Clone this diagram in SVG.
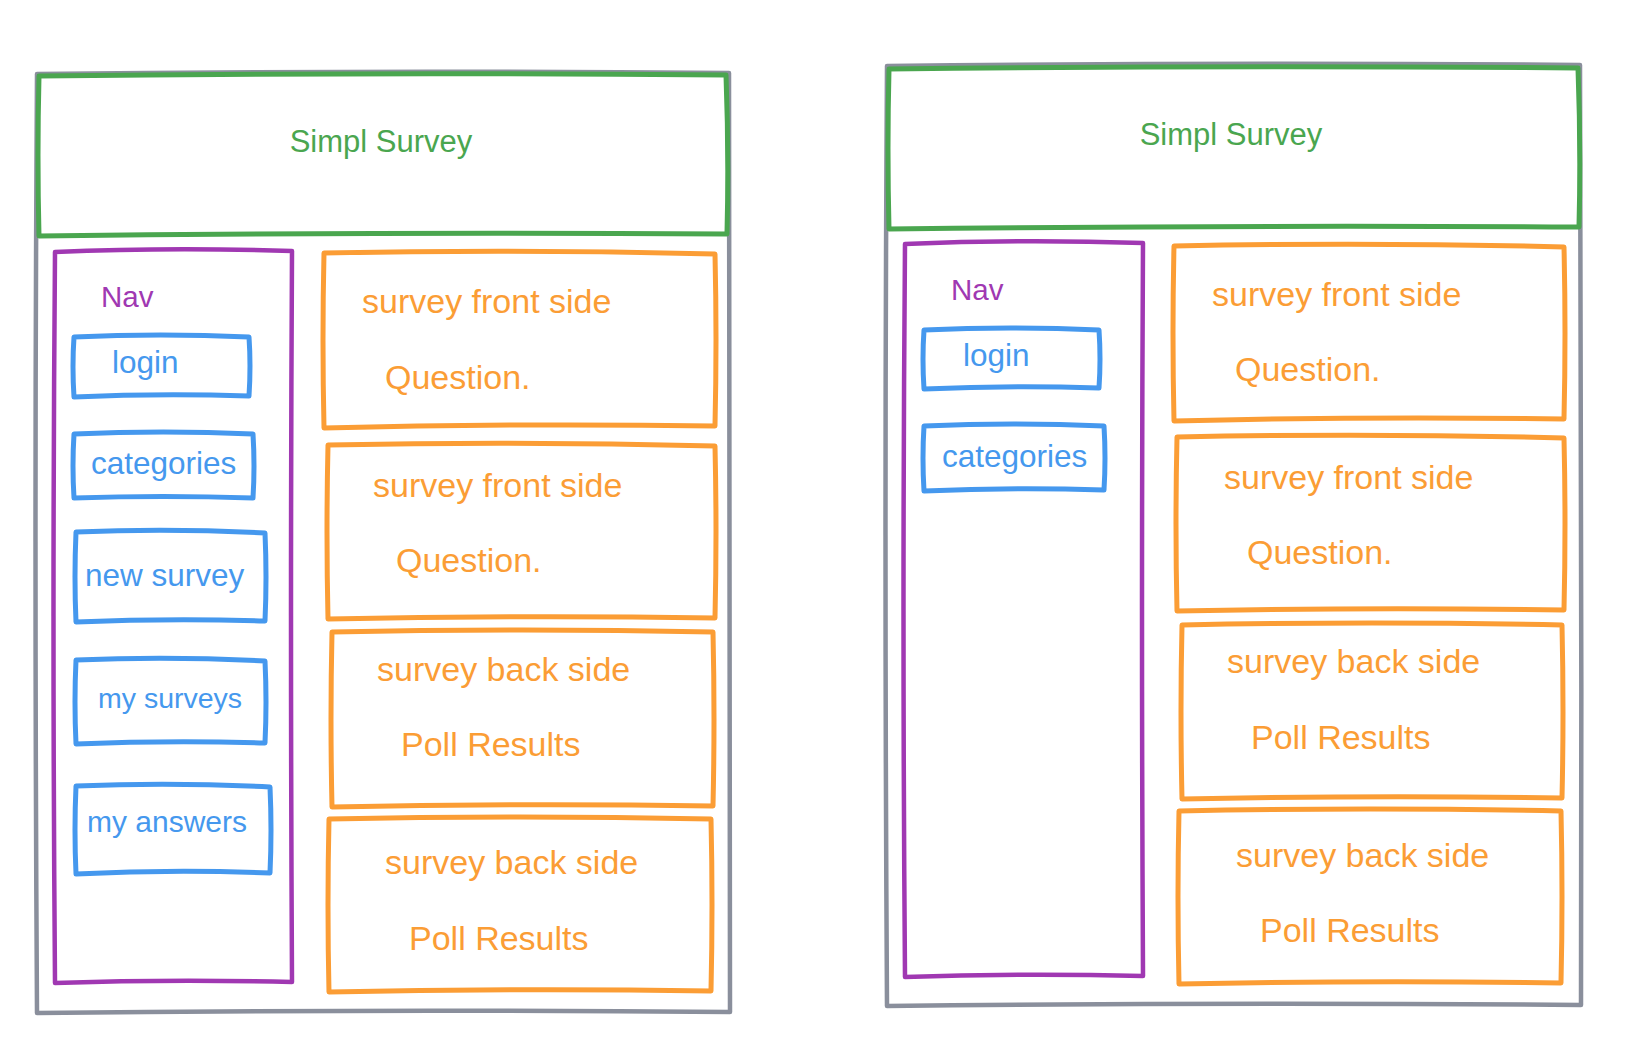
<svg xmlns="http://www.w3.org/2000/svg" width="1632" height="1062" viewBox="0 0 1632 1062">
  <style>
    .frame { fill: none; stroke: #8a8f9c; stroke-width: 4.5; stroke-linejoin: round; stroke-linecap: round; }
    .head  { fill: none; stroke: #4aa64f; stroke-width: 5; stroke-linejoin: round; stroke-linecap: round; }
    .nav   { fill: none; stroke: #a038b2; stroke-width: 4.5; stroke-linejoin: round; stroke-linecap: round; }
    .btn   { fill: none; stroke: #4598ee; stroke-width: 5; stroke-linejoin: round; stroke-linecap: round; }
    .card  { fill: none; stroke: #fb9d35; stroke-width: 5; stroke-linejoin: round; stroke-linecap: round; }
    text   { font-family: "Liberation Sans", Arial, sans-serif; }
    .t-head { fill: #4aa64f; font-size: 31px; }
    .t-nav  { fill: #a038b2; font-size: 29.5px; }
    .t-btn  { fill: #4598ee; font-size: 31.5px; }
    .t-card { fill: #fb9d35; font-size: 34px; }
  </style>
  <rect width="1632" height="1062" fill="#ffffff"/>

  <!-- wireframe A: full navigation -->
  <g id="page-a">
    <g id="a-frame">
      <path class="frame" d="M37,74 Q380,70 729,73 Q731,540 730,1012 Q380,1009 37,1013 Q34,540 37,74 Z"/>
    </g>
    <g id="a-header">
      <path class="head" d="M39,76 Q380,72 726,75 Q729,155 727,234 Q380,232 39,236 Q37,155 39,76 Z"/>
      <text class="t-head" x="381" y="152" text-anchor="middle">Simpl Survey</text>
    </g>
    <g id="a-nav">
      <path class="nav" d="M55,252 Q170,247 292,251 Q290,615 292,982 Q170,979 55,983 Q52,615 55,252 Z"/>
      <text class="t-nav" x="101" y="307">Nav</text>
    </g>
    <g id="a-login">
      <path class="btn" d="M74,337 Q160,333 249,337 Q251,366 249,396 Q160,393 74,397 Q72,366 74,337 Z"/>
      <text class="t-btn" x="112" y="373">login</text>
    </g>
    <g id="a-categories">
      <path class="btn" d="M74,434 Q163,430 253,434 Q255,466 253,498 Q163,495 74,498 Q72,466 74,434 Z"/>
      <text class="t-btn" x="91" y="474">categories</text>
    </g>
    <g id="a-new-survey">
      <path class="btn" d="M76,532 Q170,528 265,533 Q267,577 265,621 Q170,618 76,622 Q74,577 76,532 Z"/>
      <text class="t-btn" x="85" y="586">new survey</text>
    </g>
    <g id="a-my-surveys">
      <path class="btn" d="M76,660 Q170,656 265,661 Q267,702 265,743 Q170,740 76,744 Q74,702 76,660 Z"/>
      <text class="t-btn" x="98" y="708" style="font-size:28.5px">my surveys</text>
    </g>
    <g id="a-my-answers">
      <path class="btn" d="M76,786 Q173,782 270,787 Q272,830 270,873 Q173,869 76,874 Q74,830 76,786 Z"/>
      <text class="t-btn" x="87" y="832" style="font-size:30px">my answers</text>
    </g>
    <g id="a-card-1">
      <path class="card" d="M324,253 Q520,249 715,254 Q717,340 715,426 Q520,423 324,428 Q322,340 324,253 Z"/>
      <text class="t-card" x="362" y="313">survey front side</text>
      <text class="t-card" x="385" y="389">Question.</text>
    </g>
    <g id="a-card-2">
      <path class="card" d="M328,445 Q522,441 715,446 Q717,532 715,618 Q522,615 328,619 Q326,532 328,445 Z"/>
      <text class="t-card" x="373" y="497">survey front side</text>
      <text class="t-card" x="396" y="572">Question.</text>
    </g>
    <g id="a-card-3">
      <path class="card" d="M332,632 Q523,628 713,632 Q715,719 713,806 Q523,803 332,807 Q330,719 332,632 Z"/>
      <text class="t-card" x="377" y="681">survey back side</text>
      <text class="t-card" x="401" y="756">Poll Results</text>
    </g>
    <g id="a-card-4">
      <path class="card" d="M329,819 Q520,815 711,819 Q713,905 711,991 Q520,988 329,992 Q327,905 329,819 Z"/>
      <text class="t-card" x="385" y="874">survey back side</text>
      <text class="t-card" x="409" y="950">Poll Results</text>
    </g>
  </g>

  <!-- wireframe B: reduced navigation -->
  <g id="page-b">
    <g id="b-frame">
      <path class="frame" d="M887,66 Q1230,62 1580,65 Q1582,535 1581,1005 Q1230,1002 887,1006 Q884,535 887,66 Z"/>
    </g>
    <g id="b-header">
      <path class="head" d="M889,69 Q1230,65 1578,68 Q1581,148 1579,227 Q1230,225 889,229 Q887,148 889,69 Z"/>
      <text class="t-head" x="1231" y="145" text-anchor="middle">Simpl Survey</text>
    </g>
    <g id="b-nav">
      <path class="nav" d="M905,244 Q1020,239 1143,243 Q1141,610 1143,976 Q1020,973 905,977 Q902,610 905,244 Z"/>
      <text class="t-nav" x="951" y="300">Nav</text>
    </g>
    <g id="b-login">
      <path class="btn" d="M924,330 Q1010,326 1099,330 Q1101,359 1099,388 Q1010,385 924,389 Q922,359 924,330 Z"/>
      <text class="t-btn" x="963" y="366">login</text>
    </g>
    <g id="b-categories">
      <path class="btn" d="M924,426 Q1013,422 1104,426 Q1106,458 1104,490 Q1013,487 924,491 Q922,458 924,426 Z"/>
      <text class="t-btn" x="942" y="467">categories</text>
    </g>
    <g id="b-card-1">
      <path class="card" d="M1174,246 Q1370,242 1564,247 Q1566,333 1564,419 Q1370,416 1174,421 Q1172,333 1174,246 Z"/>
      <text class="t-card" x="1212" y="306">survey front side</text>
      <text class="t-card" x="1235" y="381">Question.</text>
    </g>
    <g id="b-card-2">
      <path class="card" d="M1177,437 Q1371,433 1564,438 Q1566,524 1564,610 Q1371,607 1177,611 Q1175,524 1177,437 Z"/>
      <text class="t-card" x="1224" y="489">survey front side</text>
      <text class="t-card" x="1247" y="564">Question.</text>
    </g>
    <g id="b-card-3">
      <path class="card" d="M1182,625 Q1372,621 1562,625 Q1564,712 1562,798 Q1372,795 1182,799 Q1180,712 1182,625 Z"/>
      <text class="t-card" x="1227" y="673">survey back side</text>
      <text class="t-card" x="1251" y="749">Poll Results</text>
    </g>
    <g id="b-card-4">
      <path class="card" d="M1179,811 Q1370,807 1561,811 Q1563,897 1561,983 Q1370,980 1179,984 Q1177,897 1179,811 Z"/>
      <text class="t-card" x="1236" y="867">survey back side</text>
      <text class="t-card" x="1260" y="942">Poll Results</text>
    </g>
  </g>

  <!-- no links between the boxes -->
  <g id="connectors"/>
</svg>
